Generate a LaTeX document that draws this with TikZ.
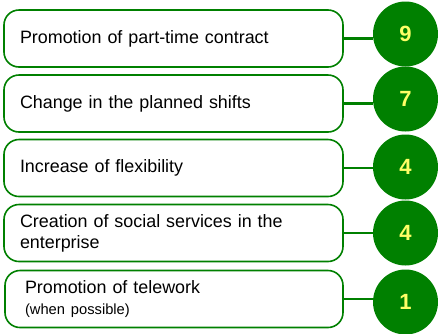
\documentclass[tikz,border=0pt]{standalone}
\usepackage{fontspec}
\setmainfont{Liberation Sans}
\definecolor{leafgreen}{HTML}{008000}
\definecolor{numyellow}{HTML}{FFFF66}
\tikzset{
  item/.style={draw=leafgreen, line width=1.6pt, rounded corners=15pt, fill=white,
    minimum height=57pt, text width=307pt, inner xsep=16pt, align=left,
    font=\fontsize{17.9}{21}\selectfont},
  score/.style={circle, fill=leafgreen, minimum size=65pt, inner sep=0pt,
    text=numyellow, font=\fontsize{22}{24}\selectfont\bfseries},
  link/.style={draw=leafgreen, line width=2.6pt}
}
\begin{document}
\begin{tikzpicture}[x=1pt,y=-1pt]
  \useasboundingbox (0,0) rectangle (438,333);
  % measures
  \node[item] (b1) at (173.5,38.5) {Promotion of part-time contract};
  \node[item] (b2) at (173.5,103.5) {Change in the planned shifts};
  \node[item] (b3) at (173.5,168) {Increase of flexibility};
  \node[item] (b4) at (173.5,233) {Creation of social services in the\\enterprise};
  \node[item, text width=298pt, inner xsep=20pt] (b5) at (174,299)
    {Promotion of telework\\{\fontsize{14.7}{17}\selectfont (when possible)}};
  % scores
  \node[score] (c1) at (405.5,34) {9};
  \node[score] (c2) at (405.5,99) {7};
  \node[score] (c3) at (405.5,167) {4};
  \node[score] (c4) at (405.5,233) {4};
  \node[score] (c5) at (405.5,302) {1};
  \foreach \i in {1,...,5}
    \draw[link] (b\i.east) -- (b\i.east -| c\i.west);
\end{tikzpicture}
\end{document}
